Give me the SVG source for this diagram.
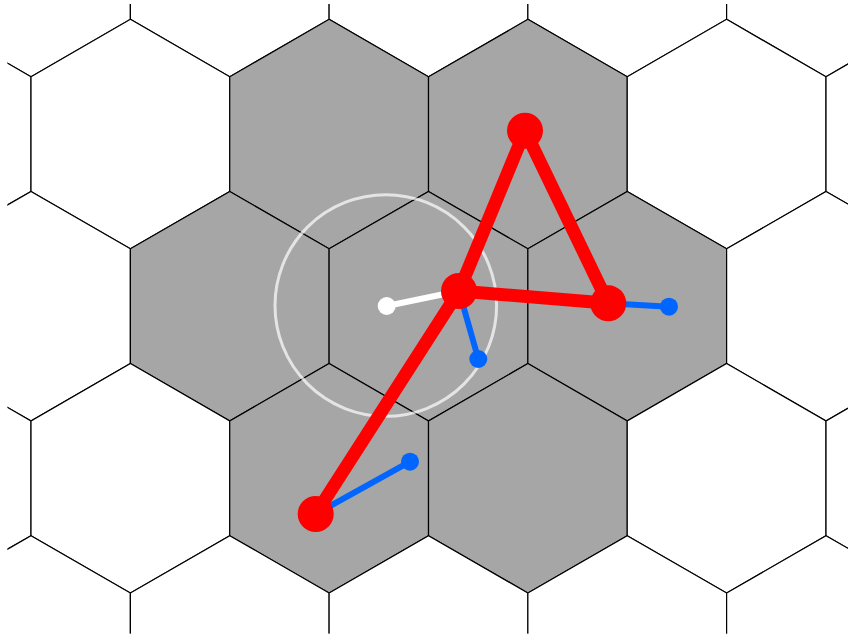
<svg xmlns="http://www.w3.org/2000/svg" xmlns:xlink="http://www.w3.org/1999/xlink" width="848" height="638" viewBox="0 0 848 638">
<style>
.cell{stroke:#000;stroke-width:1.2;stroke-linejoin:miter}
.w{fill:#fff}
.g{fill:#a6a6a6}
.red{stroke:#ff0000;stroke-width:13;stroke-linecap:round}
.blue{stroke:#0066ff;stroke-width:6;stroke-linecap:round}
.wl{stroke:#fff;stroke-width:6;stroke-linecap:round}
.rn{fill:#ff0000}
.bn{fill:#0066ff}
</style>
<defs>
<polygon id="hex" points="0,-114.75 99.375,-57.375 99.375,57.375 0,114.75 -99.375,57.375 -99.375,-57.375"/>
<clipPath id="clip"><rect x="7.5" y="4" width="841" height="629.5"/></clipPath>
</defs>
<rect width="848" height="638" fill="#fff"/>
<g id="grid" clip-path="url(#clip)">
<g id="row-1">
<use xlink:href="#hex" class="cell w" x="31" y="-38"/>
<use xlink:href="#hex" class="cell w" x="229.75" y="-38"/>
<use xlink:href="#hex" class="cell w" x="428.5" y="-38"/>
<use xlink:href="#hex" class="cell w" x="627.25" y="-38"/>
<use xlink:href="#hex" class="cell w" x="826" y="-38"/>
</g>
<g id="row0">
<use xlink:href="#hex" class="cell w" x="-68.4" y="134.1"/>
<use xlink:href="#hex" class="cell w" x="130.4" y="134.1"/>
<use xlink:href="#hex" class="cell g" x="329.1" y="134.1"/>
<use xlink:href="#hex" class="cell g" x="527.9" y="134.1"/>
<use xlink:href="#hex" class="cell w" x="726.6" y="134.1"/>
<use xlink:href="#hex" class="cell w" x="925.4" y="134.1"/>
</g>
<g id="row1">
<use xlink:href="#hex" class="cell w" x="31" y="306.2"/>
<use xlink:href="#hex" class="cell g" x="229.75" y="306.2"/>
<use xlink:href="#hex" class="cell g" x="428.5" y="306.2"/>
<use xlink:href="#hex" class="cell g" x="627.25" y="306.2"/>
<use xlink:href="#hex" class="cell w" x="826" y="306.2"/>
</g>
<g id="row2">
<use xlink:href="#hex" class="cell w" x="-68.4" y="478.3"/>
<use xlink:href="#hex" class="cell w" x="130.4" y="478.3"/>
<use xlink:href="#hex" class="cell g" x="329.1" y="478.3"/>
<use xlink:href="#hex" class="cell g" x="527.9" y="478.3"/>
<use xlink:href="#hex" class="cell w" x="726.6" y="478.3"/>
<use xlink:href="#hex" class="cell w" x="925.4" y="478.3"/>
</g>
<g id="row3">
<use xlink:href="#hex" class="cell w" x="31" y="650.4"/>
<use xlink:href="#hex" class="cell w" x="229.75" y="650.4"/>
<use xlink:href="#hex" class="cell w" x="428.5" y="650.4"/>
<use xlink:href="#hex" class="cell w" x="627.25" y="650.4"/>
<use xlink:href="#hex" class="cell w" x="826" y="650.4"/>
</g>
</g>
<g id="range">
<circle cx="385.8" cy="305.5" r="110.8" fill="none" stroke="#fff" stroke-opacity="0.7" stroke-width="3"/>
</g>
<g id="connectors">
<line class="wl" x1="386.7" y1="306" x2="459" y2="291"/>
<line class="blue" x1="459" y1="291" x2="478.3" y2="359"/>
<line class="blue" x1="608.3" y1="303.3" x2="669" y2="306.7"/>
<line class="blue" x1="315.7" y1="514" x2="410" y2="461.7"/>
<line class="red" x1="459" y1="291" x2="525" y2="130.7"/>
<line class="red" x1="525" y1="130.7" x2="608.3" y2="303.3"/>
<line class="red" x1="608.3" y1="303.3" x2="459" y2="291"/>
<line class="red" x1="459" y1="291" x2="315.7" y2="514"/>
</g>
<g id="origin"><circle cx="386.7" cy="306" r="9" fill="#fff"/></g>
<g id="node-a"><circle class="rn" cx="459" cy="291" r="18"/></g>
<g id="node-b"><circle class="rn" cx="525" cy="130.7" r="18"/></g>
<g id="node-c"><circle class="rn" cx="608.3" cy="303.3" r="18"/></g>
<g id="node-d"><circle class="rn" cx="315.7" cy="514" r="18"/></g>
<g id="tip-a"><circle class="bn" cx="478.3" cy="359" r="9"/></g>
<g id="tip-c"><circle class="bn" cx="669" cy="306.7" r="9"/></g>
<g id="tip-d"><circle class="bn" cx="410" cy="461.7" r="9"/></g>
</svg>
